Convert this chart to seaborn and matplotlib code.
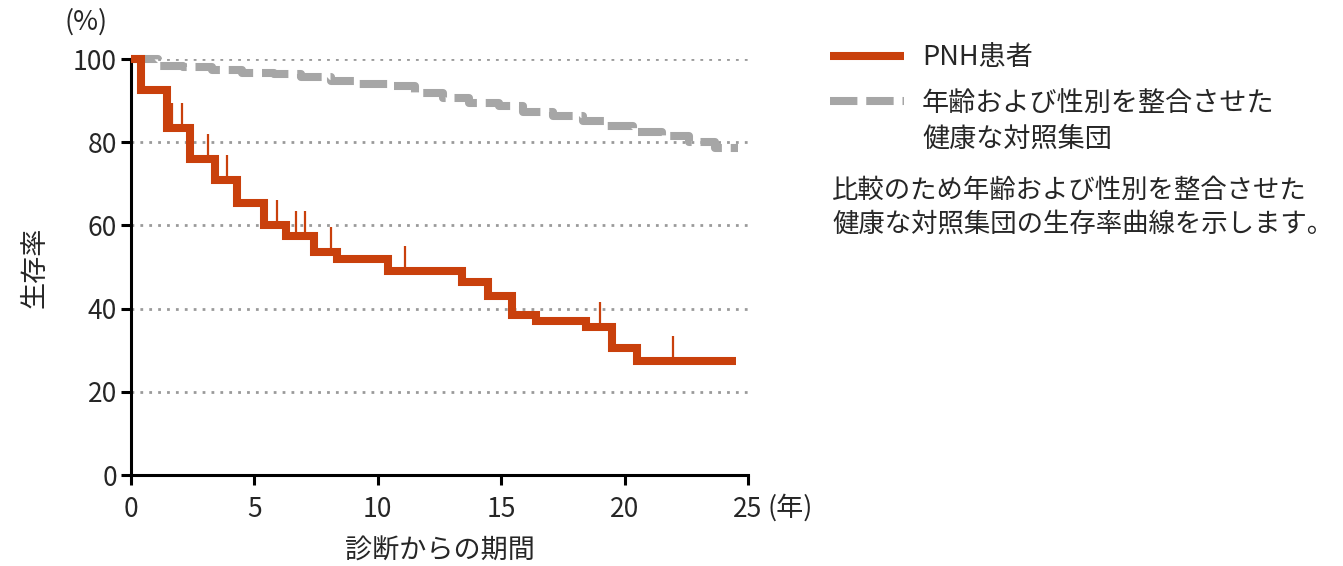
import pandas as pd
import numpy as np
import matplotlib
matplotlib.use('Agg')
import matplotlib.pyplot as plt
import seaborn as sns

#data
#PNH patients (Kaplan-Meier steps)
pnh_years = [0, 0.4, 1.45, 2.4, 3.4, 4.3, 5.4, 6.3, 7.4, 8.35, 10.4, 13.4, 14.45,
             15.45, 16.4, 18.45, 19.5, 20.5, 24.5]
pnh_surv = [100, 92.5, 83.5, 76, 71, 65.5, 60, 57.5, 53.5, 52, 49, 46.5, 43,
            38.5, 37, 35.5, 30.5, 27.5, 27.5]

#censored observations
cens_years = [1.67, 2.07, 3.1, 3.87, 5.9, 6.7, 7.05, 8.1, 11.1, 19.0, 21.95]
cens_surv = [83.5, 83.5, 76, 71, 60, 57.5, 57.5, 53.5, 49, 35.5, 27.5]

#age and sex matched healthy controls
ctrl_years = [0, 1.1, 2.1, 3.3, 4.5, 5.8, 6.9, 8.1, 9.2, 10.4, 11.5, 12.65, 13.7,
              14.9, 15.9, 17.1, 18.3, 19.25, 20.35, 21.5, 22.6, 23.65, 24.6]
ctrl_surv = [100, 98.4, 98, 97.3, 96.7, 96.3, 95.7, 94.7, 93.9, 93.6, 91.8, 90.6, 89.4,
             88.6, 87.3, 86.4, 85, 84, 82.4, 81.6, 80, 78.5, 78.5]

labels = ['PNH患者', '年齢および性別を整合させた']
label2 = '健康な対照集団'
note = '比較のため年齢および性別を整合させた\n健康な対照集団の生存率曲線を示します。'

orange = '#C9400C'
gray = '#A6A6A6'
txt = '#262626'
fs = 19.5

sns.set_style('ticks')
plt.rcParams['font.family'] = ['Noto Sans CJK JP', 'DejaVu Sans']

df_pnh = pd.DataFrame({'years': pnh_years, 'surv': pnh_surv})
df_ctrl = pd.DataFrame({'years': ctrl_years, 'surv': ctrl_surv})

W, H = 1343, 566
fig = plt.figure(figsize=(W / 100, H / 100), dpi=100)
ax = fig.add_axes([131/W, 1 - 475/H, 617/W, 416/H])

#dotted grid
for g in [20, 40, 60, 80, 100]:
    ax.axhline(g, color='#9A9A9A', lw=2, ls=(0, (1, 2.2)), zorder=0)

sns.lineplot(data=df_ctrl, x='years', y='surv', ax=ax, color=gray, lw=5.8,
             drawstyle='steps-post', linestyle=(0, (3.4, 1.1)), label=labels[1],
             clip_on=False, zorder=2)
sns.lineplot(data=df_pnh, x='years', y='surv', ax=ax, color=orange, lw=5.8,
             drawstyle='steps-post', label=labels[0], clip_on=False, zorder=3,
             solid_joinstyle='miter', solid_capstyle='butt')

#censor ticks
ax.vlines(cens_years, cens_surv, np.array(cens_surv) + 6, color=orange, lw=1.6, zorder=3)

ax.set_xlim(0, 25)
ax.set_ylim(0, 100)
ax.set_xticks([0, 5, 10, 15, 20, 25])
ax.set_yticks([0, 20, 40, 60, 80, 100])
sns.despine(ax=ax)
for s in ['left', 'bottom']:
    ax.spines[s].set_linewidth(2.2)
    ax.spines[s].set_color('black')
ax.tick_params(length=7, width=2.2, color='black', labelsize=19, labelcolor=txt)
ax.tick_params(axis='x', pad=8)
ax.tick_params(axis='y', pad=3)

ax.set_xlabel('診断からの期間', fontsize=fs, color=txt, labelpad=11)
ax.set_ylabel('生存率', fontsize=fs, color=txt, labelpad=18)
ax.text(86/W, 1 - 22/H, '(%)', transform=fig.transFigure, fontsize=fs, color=txt,
        ha='center', va='center')
ax.text(768/W, 1 - 508/H, '(年)', transform=fig.transFigure, fontsize=fs, color=txt,
        ha='left', va='center')

#legend with PNH first
h, l = ax.get_legend_handles_labels()
leg = ax.legend(h[::-1], l[::-1], loc='upper left', bbox_to_anchor=(830/W, 1 - 44/H),
                bbox_transform=fig.transFigure, frameon=False, fontsize=fs,
                handlelength=2.75, handletextpad=0.65, labelspacing=0.7,
                borderpad=0, borderaxespad=0, labelcolor=txt)

#second line of the control label under the legend text
fig.canvas.draw()
bb = leg.get_texts()[1].get_window_extent()
fig.text(bb.x0 / W, (bb.y0 + bb.height / 2 - 36) / H, label2, fontsize=fs,
         color=txt, ha='left', va='center')

fig.text(832/W, 1 - 207/H, note, fontsize=19, color=txt, ha='left', va='center',
         linespacing=1.3)

fig.savefig('out.png', dpi=100)
